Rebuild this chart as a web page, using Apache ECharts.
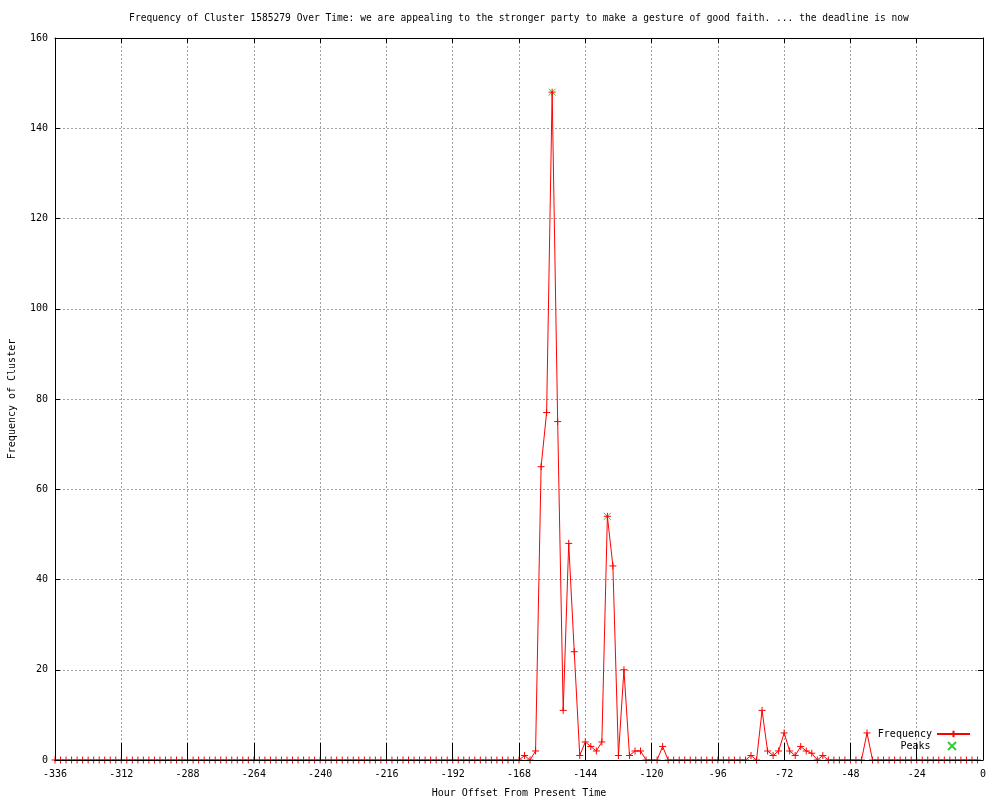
<!DOCTYPE html>
<html><head><meta charset="utf-8">
<script src="https://cdn.jsdelivr.net/npm/echarts@6/dist/echarts.min.js"></script>
<style>html,body{margin:0;padding:0;background:#fff}#c{width:1000px;height:800px}</style>
</head><body><div id="c"></div>
<script>
const TITLE = "Frequency of Cluster 1585279 Over Time: we are appealing to the stronger party to make a gesture of good faith. ... the deadline is now";
const X_NAME = "Hour Offset From Present Time";
const Y_NAME = "Frequency of Cluster";
const SERIES_NAMES = ["Frequency", "Peaks"];

const hours = [
  -336,-334,-332,-330,-328,-326,-324,-322,-320,-318,-316,-314,
  -312,-310,-308,-306,-304,-302,-300,-298,-296,-294,-292,-290,
  -288,-286,-284,-282,-280,-278,-276,-274,-272,-270,-268,-266,
  -264,-262,-260,-258,-256,-254,-252,-250,-248,-246,-244,-242,
  -240,-238,-236,-234,-232,-230,-228,-226,-224,-222,-220,-218,
  -216,-214,-212,-210,-208,-206,-204,-202,-200,-198,-196,-194,
  -192,-190,-188,-186,-184,-182,-180,-178,-176,-174,-172,-170,
  -168,-166,-164,-162,-160,-158,-156,-154,-152,-150,-148,-146,
  -144,-142,-140,-138,-136,-134,-132,-130,-128,-126,-124,-122,
  -120,-118,-116,-114,-112,-110,-108,-106,-104,-102,-100,-98,
  -96,-94,-92,-90,-88,-86,-84,-82,-80,-78,-76,-74,
  -72,-70,-68,-66,-64,-62,-60,-58,-56,-54,-52,-50,
  -48,-46,-44,-42,-40,-38,-36,-34,-32,-30,-28,-26,
  -24,-22,-20,-18,-16,-14,-12,-10,-8,-6,-4,-2
];
const frequency = [
  0,0,0,0,0,0,0,0,0,0,0,0,
  0,0,0,0,0,0,0,0,0,0,0,0,
  0,0,0,0,0,0,0,0,0,0,0,0,
  0,0,0,0,0,0,0,0,0,0,0,0,
  0,0,0,0,0,0,0,0,0,0,0,0,
  0,0,0,0,0,0,0,0,0,0,0,0,
  0,0,0,0,0,0,0,0,0,0,0,0,
  0,1,0,2,65,77,148,75,11,48,24,1,
  4,3,2,4,54,43,1,20,1,2,2,0,
  0,0,3,0,0,0,0,0,0,0,0,0,
  0,0,0,0,0,0,1,0,11,2,1,2,
  6,2,1,3,2,1.5,0,1,0,0,0,0,
  0,0,0,6,0,0,0,0,0,0,0,0,
  0,0,0,0,0,0,0,0,0,0,0,0
];
const peakHours = [-156, -136];
const peakValues = [148, 54];

const X_MIN = -336, X_MAX = 0, X_INTERVAL = 24;
const Y_MIN = 0, Y_MAX = 160, Y_INTERVAL = 20;

const FONT = "DejaVu Sans Mono";
const PLUS = 'path://M0,4L8,4M4,0L4,8';
const CROSS = 'path://M0,0L8,8M8,0L0,8';

const freqData = hours.map((h, i) => [h, frequency[i]]);
const peakData = peakHours.map((h, i) => [h, peakValues[i]]);

const chart = echarts.init(document.getElementById('c'), null, {renderer: 'canvas'});
const gridLine = {show: true, lineStyle: {color: '#a0a0a0', type: [2, 2], width: 1}};
const axisText = {color: '#000', fontFamily: FONT, fontSize: 10};
chart.setOption({
  animation: false,
  backgroundColor: '#fff',
  graphic: [{
    type: 'text', x: 519, y: 18, silent: true,
    style: {text: TITLE, fill: '#000', font: '9.6px "' + FONT + '"', align: 'center', verticalAlign: 'middle', textAlign: 'center', textVerticalAlign: 'middle'}
  }],
  grid: {left: 55, right: 17, top: 38, bottom: 40, containLabel: false, outerBoundsMode: 'none'},
  legend: [
    {data: [SERIES_NAMES[0]], right: 24, top: 724, orient: 'vertical', align: 'right',
     itemWidth: 33, itemHeight: 8, textStyle: {fontFamily: FONT, fontSize: 10, color: '#000'}},
    {data: [SERIES_NAMES[1]], right: 38, top: 736, orient: 'vertical', align: 'right',
     itemWidth: 33, itemHeight: 8, textStyle: {fontFamily: FONT, fontSize: 10, color: '#000'}}
  ],
  xAxis: [{
    type: 'value', position: 'bottom', min: X_MIN, max: X_MAX, interval: X_INTERVAL, z: 3,
    axisLine: {show: true, onZero: false, lineStyle: {color: '#000', width: 1}},
    axisTick: {show: true, inside: true, length: 17, lineStyle: {color: '#000'}},
    axisLabel: Object.assign({margin: 9}, axisText),
    splitLine: {show: false},
    name: X_NAME, nameLocation: 'middle', nameGap: 28,
    nameTextStyle: {fontFamily: FONT, fontSize: 10, color: '#000'}
  }, {
    type: 'value', position: 'top', min: X_MIN, max: X_MAX, interval: X_INTERVAL,
    axisLine: {show: true, onZero: false, lineStyle: {color: '#000', width: 1}},
    axisTick: {show: true, inside: true, length: 5, lineStyle: {color: '#000'}},
    axisLabel: {show: false},
    splitLine: gridLine
  }],
  yAxis: [{
    type: 'value', position: 'left', min: Y_MIN, max: Y_MAX, interval: Y_INTERVAL,
    axisLine: {show: true, onZero: false, lineStyle: {color: '#000', width: 1}},
    axisTick: {show: true, inside: true, length: 5, lineStyle: {color: '#000'}},
    axisLabel: Object.assign({margin: 7}, axisText),
    splitLine: gridLine,
    name: Y_NAME, nameLocation: 'middle', nameGap: 38, nameRotate: 90,
    nameTextStyle: {fontFamily: FONT, fontSize: 10, color: '#000'}
  }, {
    type: 'value', position: 'right', min: Y_MIN, max: Y_MAX, interval: Y_INTERVAL,
    axisLine: {show: true, onZero: false, lineStyle: {color: '#000', width: 1}},
    axisTick: {show: true, inside: true, length: 5, lineStyle: {color: '#000'}},
    axisLabel: {show: false},
    splitLine: {show: false}
  }],
  series: [{
    name: SERIES_NAMES[0], type: 'line', xAxisIndex: 0, yAxisIndex: 0,
    data: freqData, showAllSymbol: true, symbol: PLUS, symbolSize: 7,
    lineStyle: {color: '#ff0000', width: 1},
    itemStyle: {color: '#ff0000', borderColor: '#ff0000', borderWidth: 1},
    z: 2
  }, {
    name: SERIES_NAMES[1], type: 'scatter', xAxisIndex: 0, yAxisIndex: 0,
    data: peakData, symbol: CROSS, symbolSize: 7,
    itemStyle: {color: '#00c000', borderColor: '#00c000', borderWidth: 1},
    z: 1
  }]
});
</script>
</body></html>
